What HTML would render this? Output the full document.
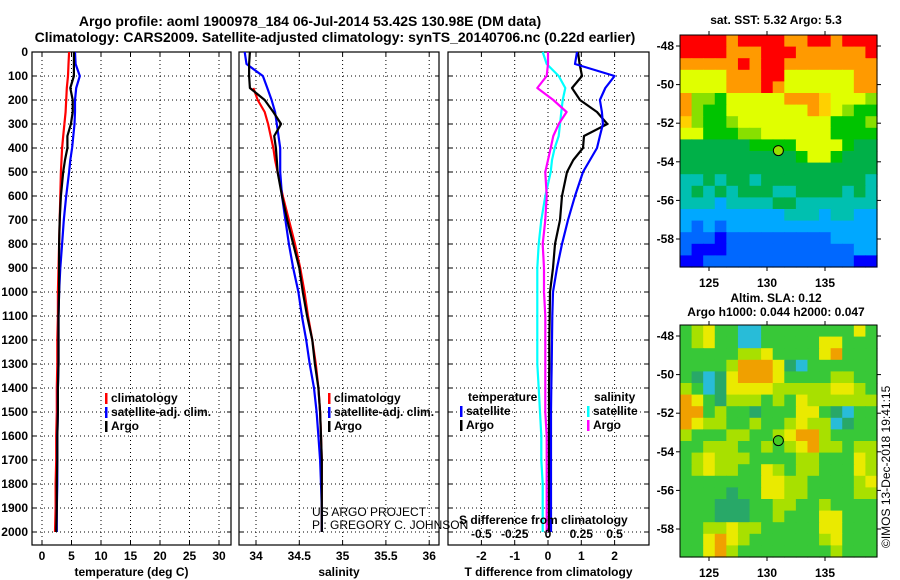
<!DOCTYPE html>
<html><head><meta charset="utf-8">
<style>
body{margin:0;background:#fff;}
svg{display:block;font-family:"Liberation Sans",sans-serif;}
text{font-weight:bold;font-size:12px;fill:#000;}
</style></head>
<body>
<svg id="fig" width="900" height="580" xmlns="http://www.w3.org/2000/svg">
<text x="310" y="26" text-anchor="middle" style="font-size:14px">Argo profile: aoml 1900978_184 06-Jul-2014 53.42S 130.98E (DM data)</text>
<text x="335" y="42" text-anchor="middle" style="font-size:14px">Climatology: CARS2009. Satellite-adjusted climatology: synTS_20140706.nc (0.22d earlier)</text>
<text x="776" y="24" text-anchor="middle">sat. SST: 5.32 Argo: 5.3</text>
<text x="776" y="302" text-anchor="middle">Altim. SLA: 0.12</text>
<text x="776" y="316" text-anchor="middle">Argo h1000: 0.044 h2000: 0.047</text>
<text transform="translate(890,548) rotate(-90)" style="font-weight:normal">©IMOS 13-Dec-2018 19:41:15</text>
<g id="g"></g>
</svg>
<script>
// ---- data ----
const depths = [0,50,100,150,200,250,300,350,400,450,500,600,700,800,900,1000,1100,1200,1300,1400,1500,1600,1700,1800,1900,2000];
const tempClim = [4.6,4.5,4.4,4.2,4.1,4.0,3.8,3.6,3.4,3.3,3.2,3.1,3.0,2.9,2.8,2.7,2.7,2.6,2.6,2.5,2.5,2.4,2.4,2.3,2.3,2.2];
const tempArgo = [5.4,5.4,5.4,4.8,5.2,5.2,4.9,4.3,4.3,3.9,3.6,3.2,3.0,2.9,2.9,2.9,2.8,2.8,2.8,2.7,2.7,2.6,2.6,2.5,2.5,2.4];
const tempSat  = [5.6,5.7,6.4,5.8,5.6,5.6,5.5,5.3,5.1,4.8,4.6,4.1,3.7,3.4,3.1,2.9,2.8,2.8,2.8,2.7,2.7,2.6,2.6,2.6,2.5,2.5];
const salClim  = [null,null,null,33.97,34.02,34.10,34.14,34.17,34.20,34.22,34.25,34.31,34.38,34.45,34.51,34.56,34.60,34.65,34.69,34.72,34.74,34.75,34.76,34.76,34.76,34.76];
const salArgo  = [33.93,33.92,33.92,33.93,34.10,34.20,34.29,34.21,34.23,34.24,34.25,34.30,34.36,34.43,34.50,34.54,34.59,34.65,34.68,34.72,34.74,34.75,34.76,34.76,34.76,34.76];
const salSat   = [33.87,33.89,34.08,34.13,34.18,34.22,34.24,34.26,34.28,34.28,34.28,34.30,34.34,34.38,34.43,34.49,34.53,34.58,34.62,34.67,34.70,34.72,34.74,34.75,34.76,34.76];
const tDiffArgo = [0.90,0.95,1.02,0.72,0.96,1.47,1.78,1.08,1.05,0.76,0.57,0.42,0.36,0.21,0.15,0.06,0.05,0.04,0.04,0.03,0.03,0.03,0.03,0.03,0.03,0.03];
const tDiffSat  = [0.87,0.81,2.0,1.72,1.56,1.62,1.65,1.56,1.47,1.26,1.05,0.81,0.60,0.42,0.27,0.15,0.13,0.12,0.11,0.10,0.09,0.09,0.09,0.09,0.09,0.09];
const sDiffSat  = [-0.04,-0.01,0.08,0.13,0.11,0.10,0.09,0.08,0.05,0.03,0.02,-0.02,-0.05,-0.07,-0.08,-0.08,-0.08,-0.08,-0.08,-0.07,-0.06,-0.05,-0.05,-0.04,-0.04,-0.04];
const sDiffArgo = [0.0,0.0,-0.01,-0.08,0.04,0.14,0.08,0.04,0.02,0.0,-0.02,-0.01,-0.02,-0.04,-0.03,-0.03,-0.02,-0.02,-0.02,-0.02,-0.02,-0.01,-0.01,-0.01,-0.01,-0.01];
const depthTicks = [0,100,200,300,400,500,600,700,800,900,1000,1100,1200,1300,1400,1500,1600,1700,1800,1900,2000];
const tempTicks = [0,5,10,15,20,25,30];
const salTicks = [34,34.5,35,35.5,36];
const salTickLabels = ["34","34.5","35","35.5","36"];
const tdTicks = [-2,-1,0,1,2];
const sdTicks = [-0.5,-0.25,0,0.25,0.5];
const latTicks = [-48,-50,-52,-54,-56,-58];
const lonTicks = [125,130,135];
const argoLon = 130.98, argoLat = -53.42;
const sstGrid = [
"aaaa9aaaa99aa9aaa","aaaa999aaa999999a","99999a9aa99999999","7777999aa77777799",
"7777999a977777799","96657777799987776","96557777777987655","86556777777775556",
"77555667777775555","44444455557777544","44444444445775444","44444444444444444",
"33434434444444443","34343444334444343","33323333443333333","22222222233323322",
"21212222222222222","11101111111112222","10001111111111122","00111111111111100"];
const slaGrid = [
"56755335555555575","56755335555577555","55555667555578555","55556888743555555",
"54347888755556655","65347777666667765","87546665657666666","88565545557754355",
"87665565567663455","65556655678865555","55666556567866566","56766655556655576",
"56766557656655576","55555557766555567","55554557766555566","55544455665565555",
"55544455655577555","55667665555577555","55787655555567555","55786555555556555"];
// ---- end data ----
const NS="http://www.w3.org/2000/svg";
const G=document.getElementById('g');
function mk(tag,at,parent){const e=document.createElementNS(NS,tag);for(const k in at)e.setAttribute(k,at[k]);(parent||G).appendChild(e);return e;}
const yTop=52, yPx=0.24, frameBot=545;
const yD=d=>yTop+d*yPx;
function lin(d0,d1,p0,p1){return v=>p0+(v-d0)*(p1-p0)/(d1-d0);}
const panels=[
 {x0:32,x1:231,sx:lin(0,5,42,71.5),ticks:tempTicks,labels:tempTicks.map(String),title:"temperature (deg C)",name:"temperature-panel"},
 {x0:239,x1:439,sx:lin(34,34.5,256,299.3),ticks:salTicks,labels:salTickLabels,title:"salinity",name:"salinity-panel"},
 {x0:448,x1:649,sx:lin(0,1,548,581.3),ticks:tdTicks,labels:tdTicks.map(String),title:"T difference from climatology",name:"difference-panel"}];
const sdx=lin(0,0.25,548,581.3);
panels.forEach((p,pi)=>{
 const g=mk('g',{});
 
 
 depthTicks.forEach(d=>{const l=mk('line',{x1:p.x0,x2:p.x1,y1:yD(d),y2:yD(d),stroke:'#000','stroke-dasharray':'1,3','stroke-width':1},g);
  
  mk('line',{x1:p.x0,x2:p.x0+4,y1:yD(d),y2:yD(d),stroke:'#000'},g);mk('line',{x1:p.x1,x2:p.x1-4,y1:yD(d),y2:yD(d),stroke:'#000'},g);});
 p.ticks.forEach((t,i)=>{const x=p.sx(t);
  const l=mk('line',{x1:x,x2:x,y1:yTop,y2:frameBot,stroke:'#000','stroke-dasharray':'1,3'},g);
  
  mk('line',{x1:x,x2:x,y1:frameBot,y2:frameBot-4,stroke:'#000'},g);mk('line',{x1:x,x2:x,y1:yTop,y2:yTop+4,stroke:'#000'},g);
  const tx=mk('text',{x:x,y:560,'text-anchor':'middle'},g);tx.textContent=p.labels[i];
  });
 const fr=mk('rect',{x:p.x0,y:yTop,width:p.x1-p.x0,height:frameBot-yTop,fill:'none',stroke:'#000','stroke-width':1.2},g);
 
 const at=mk('text',{x:(p.x0+p.x1)/2,y:576,'text-anchor':'middle'},g);at.textContent=p.title;
 
});
depthTicks.forEach(d=>{const t=mk('text',{x:28,y:yD(d)+4,'text-anchor':'end'});t.textContent=String(d);
 });
function line(vals,sx,color,name){
 let pts=[];depths.forEach((d,i)=>{if(vals[i]!==null)pts.push(sx(vals[i]).toFixed(1)+','+yD(d).toFixed(1));});
 const pl=mk('polyline',{points:pts.join(' '),fill:'none',stroke:color,'stroke-width':2.2,'stroke-linejoin':'round'});
 }
line(tempClim,panels[0].sx,'#ff0000','temperature-climatology-line');
line(tempSat,panels[0].sx,'#0000ff','temperature-satellite-line');
line(tempArgo,panels[0].sx,'#000','temperature-argo-line');
line(salClim,panels[1].sx,'#ff0000','salinity-climatology-line');
line(salSat,panels[1].sx,'#0000ff','salinity-satellite-line');
line(salArgo,panels[1].sx,'#000','salinity-argo-line');
line(sDiffSat,sdx,'#00ffff','salinity-diff-satellite-line');
line(sDiffArgo,sdx,'#ff00ff','salinity-diff-argo-line');
line(tDiffArgo,panels[2].sx,'#000','temperature-diff-argo-line');
line(tDiffSat,panels[2].sx,'#0000ff','temperature-diff-satellite-line');
sdTicks.forEach(t=>{const tx=mk('text',{x:sdx(t),y:538,'text-anchor':'middle'});tx.textContent=String(t);
 });
function txt(x,y,s,name,extra){const t=mk('text',Object.assign({x:x,y:y},extra||{}));t.textContent=s;
 return t;}
txt(459,524,'S difference from climatology','s-diff-axis-title');
txt(312,516,'US ARGO PROJECT','project-credit',{style:'font-weight:normal'});
txt(312,529,'PI: GREGORY C. JOHNSON','pi-credit',{style:'font-weight:normal'});
function leg(x,y,c,s,name){const r=mk('rect',{x:x,y:y-9,width:2.5,height:11,fill:c});
 
 txt(x+6,y,s,name);}
leg(105,402,'#ff0000','climatology','legend-t-climatology');
leg(105,416,'#0000ff','satellite-adj. clim.','legend-t-satellite');
leg(105,430,'#000','Argo','legend-t-argo');
leg(328,402,'#ff0000','climatology','legend-s-climatology');
leg(328,416,'#0000ff','satellite-adj. clim.','legend-s-satellite');
leg(328,430,'#000','Argo','legend-s-argo');
txt(468,401,'temperature','legend-temperature-header');
txt(594,401,'salinity','legend-salinity-header');
leg(460,415,'#0000ff','satellite','legend-td-satellite');
leg(460,429,'#000','Argo','legend-td-argo');
leg(587,415,'#00ffff','satellite','legend-sd-satellite');
leg(587,429,'#ff00ff','Argo','legend-sd-argo');
// maps
const mx0=680,mx1=877;const lonX=lin(125,130,709,767);
const sstCol={'0':'#0000ff','1':'#0068ff','2':'#00a8ff','3':'#00c0b0','4':'#00b048','5':'#00c400','6':'#88e000','7':'#e0ff00','8':'#ffd000','9':'#ff9a00','a':'#ff0000'};
const slaCol={'3':'#28bcd8','4':'#28a868','5':'#38c838','6':'#a8e000','7':'#eaea00','8':'#f0a000'};
function map(yt,yb,lat48,lat58,grid,cols,name){
 const g=mk('g',{});
 const latY=lin(-48,-58,lat48,lat58);
 const nr=grid.length,nc=grid[0].length,cw=(mx1-mx0)/nc,ch=(yb-yt)/nr;
 grid.forEach((row,r)=>{for(let c=0;c<nc;c++){const cell=mk('rect',{x:mx0+c*cw,y:yt+r*ch,width:cw+0.6,height:ch+0.6,fill:cols[row[c]]},g);
  }});
 mk('rect',{x:mx0,y:yt,width:mx1-mx0,height:yb-yt,fill:'none',stroke:'#000'},g);
 latTicks.forEach(l=>{const y=latY(l);mk('line',{x1:mx0-4,x2:mx0,y1:y,y2:y,stroke:'#000'},g);mk('line',{x1:mx1,x2:mx1+4,y1:y,y2:y,stroke:'#000'},g);
  const t=mk('text',{x:mx0-6,y:y+4,'text-anchor':'end'},g);t.textContent=String(l);
  });
 lonTicks.forEach(l=>{const x=lonX(l);mk('line',{x1:x,x2:x,y1:yt-4,y2:yt,stroke:'#000'},g);mk('line',{x1:x,x2:x,y1:yb,y2:yb+4,stroke:'#000'},g);
  const t=mk('text',{x:x,y:yb+20,'text-anchor':'middle'},g);t.textContent=String(l);
  });
 const m=mk('circle',{cx:lonX(argoLon),cy:latY(argoLat),r:5,fill:name==='sst-map'?'#99e000':'#44cc22',stroke:'#000'},g);
 }
map(35,267,46,239,sstGrid,sstCol,'sst-map');
map(325,557,336,529,slaGrid,slaCol,'sla-map');
</script>
</body></html>
